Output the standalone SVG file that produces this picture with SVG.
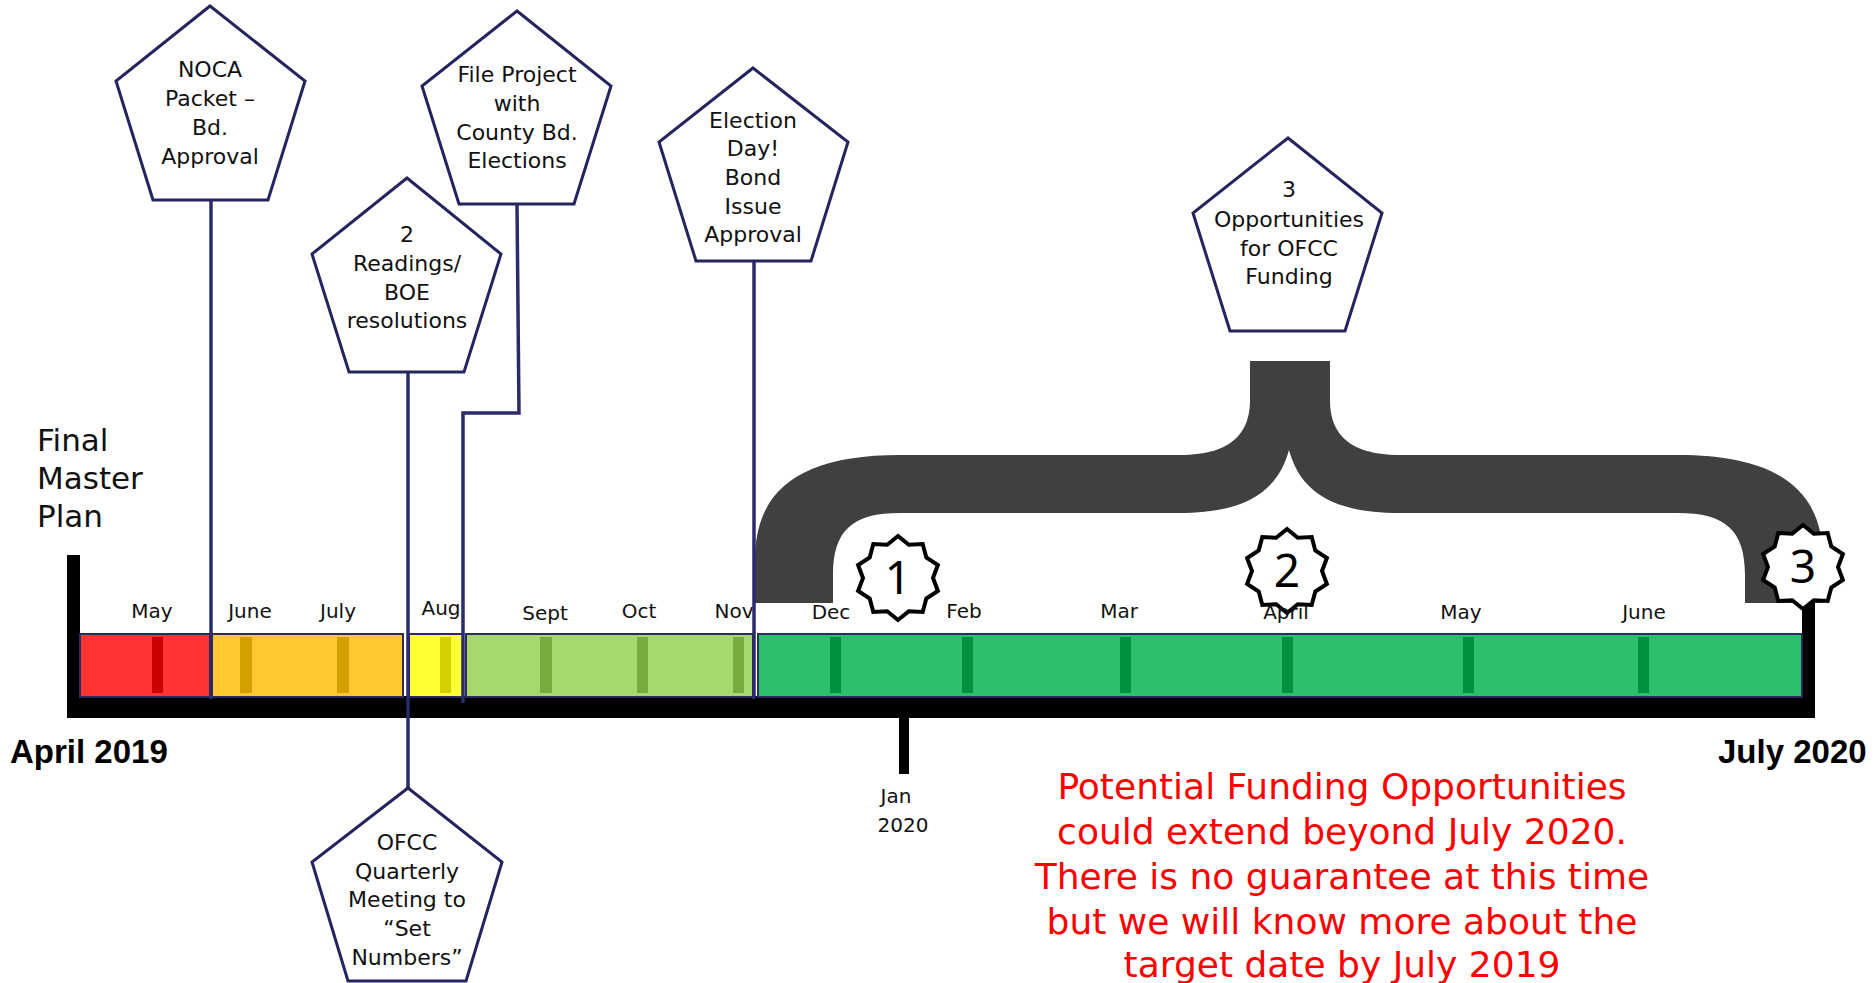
<svg xmlns="http://www.w3.org/2000/svg" width="1875" height="983" viewBox="0 0 1875 983">
<style>
.seg{stroke:#2b2b5e;stroke-width:2}
.st{stroke:none}
.mon{font-family:"DejaVu Sans",sans-serif;font-size:20px;fill:#111;text-anchor:middle}
.pent{fill:#fff;stroke:#24245e;stroke-width:3;stroke-linejoin:miter}
.pt{font-family:"DejaVu Sans",sans-serif;font-size:22px;fill:#111;text-anchor:middle}
.conn{fill:none;stroke:#2b2b6b;stroke-width:3.5}
.big{font-family:"Liberation Sans",Arial,sans-serif;font-weight:bold;font-size:33px;fill:#000}
.red{font-family:"DejaVu Sans",sans-serif;font-size:36px;fill:#ff0000;text-anchor:middle}
.num{font-family:"Noto Sans",sans-serif;font-size:46px;fill:#000;text-anchor:middle}
.fmp{font-family:"DejaVu Sans",sans-serif;font-size:31px;fill:#111}
.star{fill:#fff;stroke:#000;stroke-width:4;stroke-linejoin:miter}
</style>
<defs>
<polygon id="seal" class="star" points="0,-42 10.8,-33.3 24.7,-34 28.3,-20.6 39.9,-13 35,0 39.9,13 28.3,20.6 24.7,34 10.8,33.3 0,42 -10.8,33.3 -24.7,34 -28.3,20.6 -39.9,13 -35,0 -39.9,-13 -28.3,-20.6 -24.7,-34 -10.8,-33.3"/>
</defs>
<rect width="1875" height="983" fill="#fff"/>

<g id="axis">
<rect x="67" y="555" width="13" height="163" fill="#000"/>
<rect x="67" y="696" width="1748" height="22" fill="#000"/>
<rect x="1802" y="600" width="13" height="118" fill="#000"/>
<rect x="899" y="716" width="10" height="58" fill="#000"/>
</g>

<g id="timeline-bar">
<rect class="seg" x="80" y="634" width="130" height="63" fill="#ff3333"/>
<rect class="st" x="152" y="637" width="11" height="56" fill="#cc0000"/>
<rect class="seg" x="212" y="634" width="191" height="63" fill="#ffc832"/>
<rect class="st" x="240" y="637" width="12" height="56" fill="#d4a000"/>
<rect class="st" x="337" y="637" width="12" height="56" fill="#d4a000"/>
<rect class="seg" x="409" y="634" width="54" height="63" fill="#ffff33"/>
<rect class="st" x="440" y="637" width="11" height="56" fill="#d4d000"/>
<rect class="seg" x="466" y="634" width="287" height="63" fill="#a6d86e"/>
<rect class="st" x="540" y="637" width="12" height="56" fill="#7aab3f"/>
<rect class="st" x="637" y="637" width="11" height="56" fill="#7aab3f"/>
<rect class="st" x="733" y="637" width="11" height="56" fill="#7aab3f"/>
<rect class="seg" x="758" y="634" width="1044" height="63" fill="#2dbe6e"/>
<rect class="st" x="830" y="637" width="11" height="56" fill="#00913f"/>
<rect class="st" x="962" y="637" width="11" height="56" fill="#00913f"/>
<rect class="st" x="1120" y="637" width="11" height="56" fill="#00913f"/>
<rect class="st" x="1282" y="637" width="11" height="56" fill="#00913f"/>
<rect class="st" x="1463" y="637" width="11" height="56" fill="#00913f"/>
<rect class="st" x="1638" y="637" width="11" height="56" fill="#00913f"/>
</g>

<g id="brace">
<path fill="#404040" d="M755,603 L755,560 C755,490 800,455 900,455 L1180,455 C1235,455 1250,430 1250,400 L1250,361 L1330,361 L1330,400 C1330,430 1345,455 1400,455 L1678,455 C1778,455 1823,490 1823,560 L1823,603 L1745,603 L1745,575 C1745,530 1725,513 1678,513 L1400,513 C1330,513 1300,490 1289,450 C1278,490 1248,513 1178,513 L900,513 C853,513 833,530 833,575 L833,603 Z"/>
</g>

<g id="star1"><use href="#seal" x="898" y="578"/><text class="num" x="898" y="594">1</text></g>
<g id="star2"><use href="#seal" x="1287" y="571"/><text class="num" x="1287" y="587">2</text></g>
<g id="star3"><use href="#seal" x="1803" y="567"/><text class="num" x="1803" y="583">3</text></g>

<g id="months">
<text class="mon" x="152" y="618">May</text>
<text class="mon" x="250" y="618">June</text>
<text class="mon" x="338" y="618">July</text>
<text class="mon" x="441" y="615">Aug</text>
<text class="mon" x="545" y="620">Sept</text>
<text class="mon" x="639" y="618">Oct</text>
<text class="mon" x="734" y="618">Nov</text>
<text class="mon" x="831" y="619">Dec</text>
<text class="mon" x="964" y="618">Feb</text>
<text class="mon" x="1119" y="618">Mar</text>
<text class="mon" x="1286" y="619">April</text>
<text class="mon" x="1461" y="619">May</text>
<text class="mon" x="1644" y="619">June</text>
</g>

<g id="connectors">
<line class="conn" x1="211" y1="200" x2="211" y2="699"/>
<line class="conn" x1="408" y1="372" x2="408" y2="788"/>
<polyline class="conn" points="517,204 519,413 463,413 463,703"/>
<line class="conn" x1="754" y1="261" x2="754" y2="699"/>
</g>

<g id="node-noca">
<polygon class="pent" points="210,6 305,81 268,200 153,200 116,81"/>
<text class="pt" x="210" y="77">NOCA</text>
<text class="pt" x="210" y="106">Packet –</text>
<text class="pt" x="210" y="135">Bd.</text>
<text class="pt" x="210" y="164">Approval</text>
</g>

<g id="node-file">
<polygon class="pent" points="517,11 611,86 574,204 459,204 422,86"/>
<text class="pt" x="517" y="82">File Project</text>
<text class="pt" x="517" y="111">with</text>
<text class="pt" x="517" y="140">County Bd.</text>
<text class="pt" x="517" y="168">Elections</text>
</g>

<g id="node-readings">
<polygon class="pent" points="407,178 501,254 464,372 349,372 312,254"/>
<text class="pt" x="407" y="242">2</text>
<text class="pt" x="407" y="271">Readings/</text>
<text class="pt" x="407" y="300">BOE</text>
<text class="pt" x="407" y="328">resolutions</text>
</g>

<g id="node-ofcc">
<polygon class="pent" points="408,788 502,862 466,981 348,981 312,862"/>
<text class="pt" x="407" y="850">OFCC</text>
<text class="pt" x="407" y="879">Quarterly</text>
<text class="pt" x="407" y="907">Meeting to</text>
<text class="pt" x="407" y="936">“Set</text>
<text class="pt" x="407" y="965">Numbers”</text>
</g>

<g id="node-election">
<polygon class="pent" points="753,68 848,142 811,261 696,261 659,142"/>
<text class="pt" x="753" y="128">Election</text>
<text class="pt" x="753" y="156">Day!</text>
<text class="pt" x="753" y="185">Bond</text>
<text class="pt" x="753" y="214">Issue</text>
<text class="pt" x="753" y="242">Approval</text>
</g>

<g id="node-opps">
<polygon class="pent" points="1288,138 1382,213 1345,331 1230,331 1193,213"/>
<text class="pt" x="1289" y="197">3</text>
<text class="pt" x="1289" y="227">Opportunities</text>
<text class="pt" x="1289" y="256">for OFCC</text>
<text class="pt" x="1289" y="284">Funding</text>
</g>

<g id="labels">
<text class="fmp" x="37" y="451">Final</text>
<text class="fmp" x="37" y="489">Master</text>
<text class="fmp" x="37" y="527">Plan</text>
<text class="big" x="10" y="763">April 2019</text>
<text class="big" x="1718" y="763">July 2020</text>
<text class="mon" x="896" y="803">Jan</text>
<text class="mon" x="903" y="832">2020</text>
<text class="red" x="1342" y="799">Potential Funding Opportunities</text>
<text class="red" x="1342" y="844">could extend beyond July 2020.</text>
<text class="red" x="1342" y="889">There is no guarantee at this time</text>
<text class="red" x="1342" y="934">but we will know more about the</text>
<text class="red" x="1342" y="977">target date by July 2019</text>
</g>
</svg>
